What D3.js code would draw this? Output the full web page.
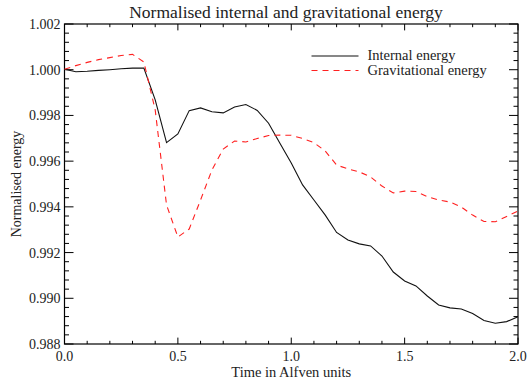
<!DOCTYPE html>
<html>
<head>
<meta charset="utf-8">
<script src="https://cdn.jsdelivr.net/npm/d3@7"></script>
<style>
  body { margin: 0; background: #fff; }
</style>
</head>
<body>
<div id="chart"></div>
<script>
// Datos (paso de 0.05 en tiempo)
const times = d3.range(0, 41).map(i => +(i * 0.05).toFixed(2));
const internalEnergy = [
  1.00002, 0.99991, 0.99993, 0.99997, 1.00000, 1.00004, 1.00007, 1.00007, 0.99868, 0.99681,
  0.99719, 0.99821, 0.99833, 0.99816, 0.99811, 0.99837, 0.99848, 0.99822, 0.99766, 0.99678,
  0.99592, 0.99496, 0.99430, 0.99364, 0.99288, 0.99255, 0.99238, 0.99229, 0.99185, 0.99115,
  0.99076, 0.99054, 0.99010, 0.98971, 0.98958, 0.98953, 0.98933, 0.98903, 0.98891, 0.98898,
  0.98919
];
const gravitationalEnergy = [
  1.00002, 1.00018, 1.00032, 1.00044, 1.00053, 1.00062, 1.00067, 1.00034, 0.99824, 0.99408,
  0.99268, 0.99303, 0.99430, 0.99561, 0.99653, 0.99688, 0.99684, 0.99699, 0.99712, 0.99714,
  0.99713, 0.99699, 0.99681, 0.99644, 0.99583, 0.99566, 0.99553, 0.99531, 0.99491, 0.99461,
  0.99469, 0.99467, 0.99445, 0.99430, 0.99421, 0.99399, 0.99364, 0.99336, 0.99335, 0.99358,
  0.99382
];
const xTicks = [0, 0.5, 1.0, 1.5, 2.0];
const yTicks = [0.988, 0.990, 0.992, 0.994, 0.996, 0.998, 1.000, 1.002];
const seriesNames = ["Internal energy", "Gravitational energy"];

const FONT = "'Liberation Serif', 'Times New Roman', serif";
const W = 532, H = 381;
const margin = { top: 24, right: 14, bottom: 37, left: 64.5 };
const width = W - margin.left - margin.right;
const height = H - margin.top - margin.bottom;

const svg = d3.select("#chart").append("svg")
    .attr("width", W).attr("height", H)
    .attr("font-family", FONT);
const g = svg.append("g").attr("transform", `translate(${margin.left}, ${margin.top})`);

const x = d3.scaleLinear().domain([0, 2]).range([0, width]);
const y = d3.scaleLinear().domain([0.988, 1.002]).range([height, 0]);

// Ticks hacia dentro, estilo IDL
const xMinor = d3.range(0, 2.0001, 0.1);
const yMinor = d3.range(0.988, 1.00201, 0.0004);
const xLen = 6.4, yLen = 9;

const ticks = g.append("g").attr("stroke", "#000").attr("stroke-width", 1);
xMinor.forEach(t => {
  const major = xTicks.some(v => Math.abs(v - t) < 1e-6);
  const l = major ? xLen : xLen / 2;
  ticks.append("line").attr("x1", x(t)).attr("x2", x(t)).attr("y1", height).attr("y2", height - l);
  ticks.append("line").attr("x1", x(t)).attr("x2", x(t)).attr("y1", 0).attr("y2", l);
});
yMinor.forEach(t => {
  const major = yTicks.some(v => Math.abs(v - t) < 1e-7);
  const l = major ? yLen : yLen / 2;
  ticks.append("line").attr("y1", y(t)).attr("y2", y(t)).attr("x1", 0).attr("x2", l);
  ticks.append("line").attr("y1", y(t)).attr("y2", y(t)).attr("x1", width).attr("x2", width - l);
});

g.append("rect").attr("width", width).attr("height", height)
  .attr("fill", "none").attr("stroke", "#000").attr("stroke-width", 1.2);

// Etiquetas de ejes
g.selectAll(".xlab").data(xTicks).join("text")
  .attr("x", d => x(d)).attr("y", height + 17)
  .attr("text-anchor", "middle").attr("font-size", 14).attr("fill", "#222")
  .text(d => d.toFixed(1));
g.selectAll(".ylab").data(yTicks).join("text")
  .attr("x", -4).attr("y", d => y(d) + 5)
  .attr("text-anchor", "end").attr("font-size", 14).attr("fill", "#222")
  .text(d => d.toFixed(3));

svg.append("text").attr("x", margin.left + width / 2).attr("y", 377)
  .attr("text-anchor", "middle").attr("font-size", 14.5).attr("fill", "#222").text("Time in Alfven units");
svg.append("text").attr("transform", `translate(21, ${margin.top + height / 2}) rotate(-90)`)
  .attr("text-anchor", "middle").attr("font-size", 14).attr("fill", "#222").text("Normalised energy");
svg.append("text").attr("x", 286).attr("y", 18)
  .attr("text-anchor", "middle").attr("font-size", 17.5).attr("fill", "#222")
  .text("Normalised internal and gravitational energy");

// Lineas
const line = d3.line().x((d, i) => x(times[i])).y(d => y(d));
g.append("path").datum(internalEnergy).attr("d", line)
  .attr("fill", "none").attr("stroke", "#111").attr("stroke-width", 1.1);
g.append("path").datum(gravitationalEnergy).attr("d", line)
  .attr("fill", "none").attr("stroke", "#ff2020").attr("stroke-width", 1.1)
  .attr("stroke-dasharray", "6,5");

// Leyenda
const legend = svg.append("g");
const styles = [{ c: "#111", d: null }, { c: "#ff2020", d: "6,5" }];
seriesNames.forEach((name, i) => {
  const yy = 56 + i * 14.5;
  legend.append("line").attr("x1", 311.5).attr("x2", 358.5).attr("y1", yy).attr("y2", yy)
    .attr("stroke", styles[i].c).attr("stroke-width", 1.1).attr("stroke-dasharray", styles[i].d);
  legend.append("text").attr("x", 367.5).attr("y", yy + 4).attr("font-size", 14.5)
    .attr("fill", "#222").text(name);
});
</script>
</body>
</html>
